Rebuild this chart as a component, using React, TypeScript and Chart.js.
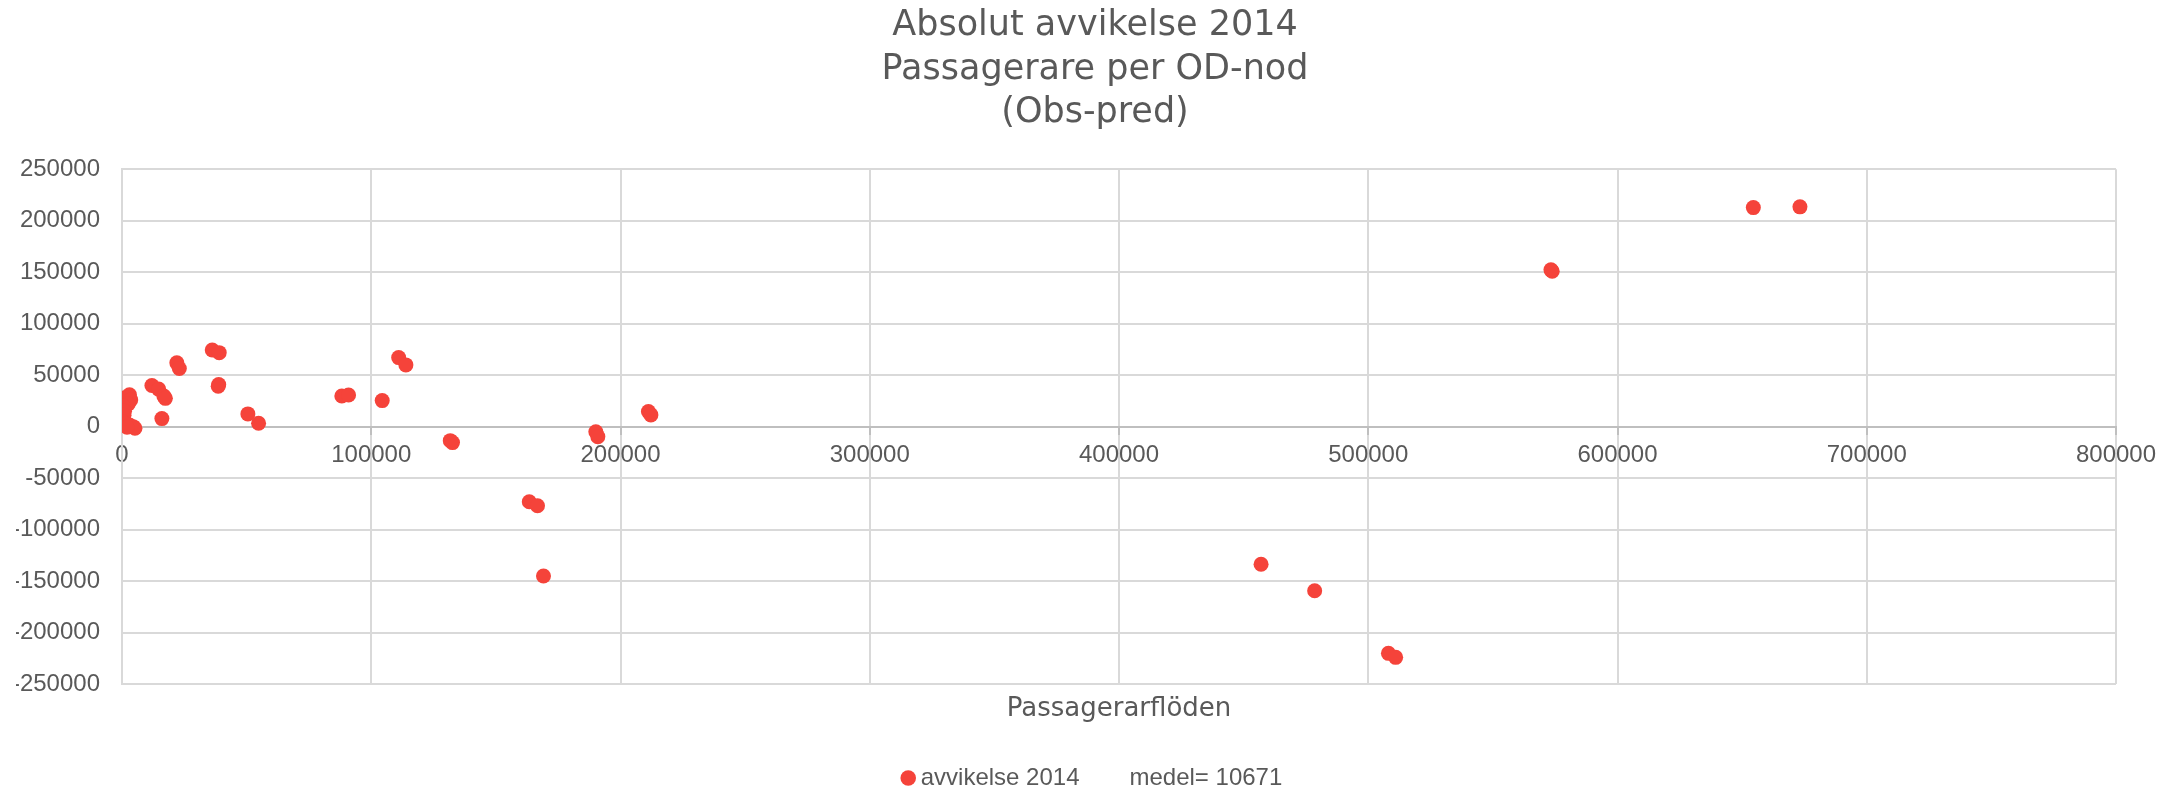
import React, { useEffect, useRef } from "react";
import { Chart, registerables } from "chart.js";

Chart.register(...registerables);

// Passenger flow per OD node (x) and absolute deviation observed - predicted (y)
const flowValues = [
  0, 1000, 3000, 3500, 2500, 500, 1000, 800, 300, 1500, 3000, 4500, 5200, 2000,
  12000, 14700, 16800, 17400, 16000, 22000, 23000, 36200, 39000, 38800, 38600,
  50500, 54800, 88200, 90900, 104400, 111000, 113900, 131700, 132600, 163400,
  166700, 169100, 190100, 190900, 211200, 212200, 457000, 478500, 508100,
  511000, 573300, 573800, 654500, 673200,
];
const deviationValues = [
  25000, 28000, 31000, 26000, 22000, 20000, 15000, 11000, 5000, 2500, 1500, 0,
  -1500, -500, 40000, 36500, 29700, 27500, 7800, 62000, 56500, 74500, 71900,
  40900, 39200, 12400, 3300, 29800, 30800, 25300, 67100, 60000, -13600, -15500,
  -72900, -76800, -145100, -4900, -9700, 14600, 11400, -133700, -159400,
  -220200, -224100, 152300, 151000, 212800, 213500,
];

const xTickValues = [0, 100000, 200000, 300000, 400000, 500000, 600000, 700000, 800000];
const yTickValues = [-250000, -200000, -150000, -100000, -50000, 0, 50000, 100000, 150000, 200000, 250000];

const titleLines = ["Absolut avvikelse 2014", "Passagerare per OD-nod", "(Obs-pred)"];
const xAxisTitle = "Passagerarflöden";
const seriesLabel = "avvikelse 2014";
const meanLabel = "medel= 10671";

const RED = "rgb(245, 67, 58)";
const TEXT = "#595959";
const GRID = "#d9d9d9";
const AXIS = "#bfbfbf";
const SANS = "'Liberation Sans', Arial, sans-serif";
const HEADING = "'DejaVu Sans', sans-serif";

export default function App() {
  const canvasRef = useRef<HTMLCanvasElement | null>(null);

  useEffect(() => {
    const canvas = canvasRef.current;
    if (!canvas) return;

    const chart = new Chart(canvas, {
      type: "scatter",
      data: {
        datasets: [
          {
            label: seriesLabel,
            data: flowValues.map((x, i) => ({ x, y: deviationValues[i] })),
            backgroundColor: RED,
            borderColor: RED,
            borderWidth: 0,
            pointRadius: 7.5,
            pointHoverRadius: 7.5,
          },
          {
            label: meanLabel,
            data: [],
            backgroundColor: "rgba(0,0,0,0)",
            borderColor: "rgba(0,0,0,0)",
            pointRadius: 0,
          },
        ],
      },
      options: {
        animation: false,
        responsive: false,
        maintainAspectRatio: false,
        events: [],
        layout: { padding: { left: 16, right: 8, top: 0, bottom: -12 } },
        plugins: {
          tooltip: { enabled: false },
          title: {
            display: true,
            text: titleLines,
            color: TEXT,
            font: { family: HEADING, size: 35, weight: "normal", lineHeight: 1.24 },
            padding: { top: 4.5, bottom: 34.6 },
          },
          subtitle: {
            display: true,
            position: "bottom",
            fullSize: false,
            weight: 500,
            text: xAxisTitle,
            color: TEXT,
            font: { family: HEADING, size: 26, weight: "normal", lineHeight: 1.2 },
            padding: { top: 9.4, bottom: 4.4 },
          },
          legend: {
            display: true,
            position: "bottom",
            labels: {
              usePointStyle: true,
              boxWidth: 1,
              boxHeight: 11,
              padding: 37,
              color: TEXT,
              font: { family: SANS, size: 24 },
              generateLabels: (c: Chart) =>
                c.data.datasets.map((ds: any, i: number) => ({
                  text: ds.label,
                  datasetIndex: i,
                  fillStyle: i === 0 ? RED : "rgba(0,0,0,0)",
                  strokeStyle: "rgba(0,0,0,0)",
                  lineWidth: 0,
                  pointStyle: "circle",
                  hidden: false,
                  fontColor: TEXT,
                })),
            },
          },
        },
        scales: {
          x: {
            type: "linear",
            min: 0,
            max: 800000,
            position: { y: 0 } as any,
            afterBuildTicks: (s: any) => {
              s.ticks = xTickValues.map((value) => ({ value }));
            },
            ticks: {
              color: TEXT,
              font: { family: SANS, size: 24 },
              padding: 7,
              maxRotation: 0,
              autoSkip: false,
              callback: (v: any) => String(v),
            },
            grid: { color: GRID, lineWidth: 2, tickLength: 7, tickColor: AXIS, tickWidth: 2 },
            border: { color: AXIS, width: 2 },
          },
          y: {
            type: "linear",
            min: -250000,
            max: 250000,
            position: "left",
            afterBuildTicks: (s: any) => {
              s.ticks = yTickValues.map((value) => ({ value }));
            },
            afterFit: (s: any) => {
              s.width = 106;
            },
            ticks: {
              color: TEXT,
              font: { family: SANS, size: 24 },
              padding: 22,
              callback: (v: any) => String(v),
            },
            grid: { color: GRID, lineWidth: 2, drawTicks: false },
            border: { color: GRID, width: 2 },
          },
          // empty right-hand axis that reserves the margin right of the plot
          yRight: {
            type: "linear",
            position: "right",
            min: 0,
            max: 1,
            display: true,
            ticks: { display: false },
            grid: { display: false, drawOnChartArea: false, drawTicks: false },
            border: { display: false },
            afterFit: (s: any) => {
              s.width = 58;
            },
          },
        },
      } as any,
    });

    return () => chart.destroy();
  }, []);

  return (
    <div style={{ position: "fixed", left: 0, top: 0, width: 2182, height: 788, background: "#fff" }}>
      <canvas ref={canvasRef} width={2182} height={788} style={{ display: "block" }} />
    </div>
  );
}
